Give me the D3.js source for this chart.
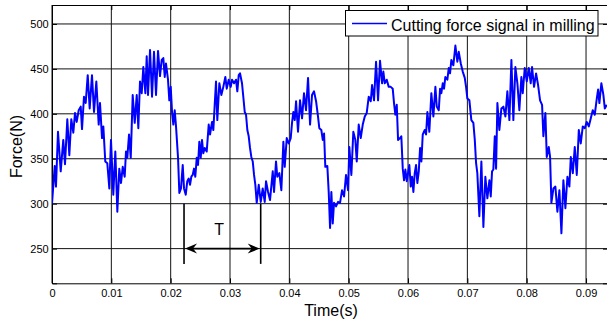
<!DOCTYPE html>
<html>
<head>
<meta charset="utf-8">
<script src="https://cdn.jsdelivr.net/npm/d3@7"></script>
<style>
  html, body { margin: 0; padding: 0; background: #fff; }
  svg { display: block; font-family: "Liberation Sans", Arial, Helvetica, sans-serif; }
</style>
</head>
<body>
<svg id="chart" width="607" height="324"></svg>
<script>
// ---- data (time in ms, force in N) ----
const timeMs = [
  0, 0.46, 0.67, 1.01, 1.47, 1.90, 2.19, 2.58, 2.92, 3.25,
  3.59, 3.88, 4.16, 4.50, 4.84, 5.06, 5.39, 5.68, 6.02, 6.35,
  6.74, 7.08, 7.47, 7.87, 8.09, 8.43, 8.65, 8.98, 9.32, 9.66,
  9.94, 10.33, 10.67, 11.01, 11.34, 11.63, 11.92, 12.25, 12.47, 12.69,
  12.98, 13.27, 13.60, 13.94, 14.28, 14.55, 14.83, 15.12, 15.39, 15.73,
  15.96, 16.18, 16.52, 16.86, 17.19, 17.53, 17.87, 18.20, 18.49, 18.76,
  19.00, 19.21, 19.55, 19.77, 20.01, 20.23, 20.45, 20.68, 20.90, 21.24,
  21.46, 21.74, 22.03, 22.25, 22.54, 22.80, 23.04, 23.26, 23.48, 23.71,
  23.93, 24.15, 24.39, 24.61, 24.83, 25.06, 25.28, 25.50, 25.74, 26.07,
  26.41, 26.63, 26.97, 27.19, 27.42, 27.64, 27.86, 28.20, 28.54, 28.87,
  29.21, 29.45, 29.78, 30.12, 30.34, 30.68, 31.01, 31.23, 31.47, 31.69,
  32.02, 32.24, 32.48, 32.70, 32.92, 33.15, 33.37, 33.59, 33.83, 34.05,
  34.27, 34.50, 34.84, 35.18, 35.51, 35.85, 36.07, 36.41, 36.74, 37.20,
  37.42, 37.75, 37.97, 38.31, 38.65, 38.99, 39.22, 39.56, 39.90, 40.23,
  40.45, 40.67, 40.91, 41.13, 41.46, 41.80, 42.14, 42.47, 42.81, 43.15,
  43.49, 43.82, 44.16, 44.50, 44.83, 45.05, 45.39, 45.63, 45.85, 46.06,
  46.40, 46.64, 46.86, 47.08, 47.31, 47.53, 47.87, 48.21, 48.54, 48.88,
  49.22, 49.55, 49.89, 50.11, 50.45, 50.78, 51.12, 51.36, 51.69, 52.03,
  52.37, 52.71, 53.04, 53.38, 53.72, 53.94, 54.27, 54.61, 54.95, 55.28,
  55.62, 55.84, 56.08, 56.41, 56.75, 57.09, 57.42, 57.64, 57.86, 58.10,
  58.32, 58.66, 58.87, 59.11, 59.33, 59.55, 59.79, 60.00, 60.22, 60.46,
  60.68, 60.90, 61.13, 61.35, 61.57, 61.81, 62.03, 62.25, 62.48, 62.82,
  63.04, 63.26, 63.59, 63.93, 64.27, 64.61, 64.84, 65.18, 65.40, 65.62,
  65.85, 66.07, 66.29, 66.63, 66.86, 67.08, 67.30, 67.64, 67.98, 68.31,
  68.55, 68.89, 69.22, 69.56, 69.78, 70.00, 70.34, 70.67, 71.01, 71.25,
  71.47, 71.68, 72.02, 72.36, 72.70, 73.03, 73.37, 73.71, 73.94, 74.16,
  74.38, 74.62, 74.84, 75.06, 75.39, 75.73, 76.07, 76.41, 76.74, 77.08,
  77.42, 77.75, 78.09, 78.43, 78.76, 79.10, 79.33, 79.67, 80.01, 80.35,
  80.68, 80.90, 81.24, 81.58, 81.92, 82.25, 82.59, 82.81, 83.15, 83.38,
  83.72, 83.94, 84.16, 84.50, 84.83, 85.17, 85.51, 85.85, 86.18, 86.52,
  86.86, 87.19, 87.43, 87.77, 88.10, 88.44, 88.78, 89.11, 89.45, 89.79,
  90.12, 90.46, 90.80, 91.13, 91.47, 91.81, 92.03, 92.25, 92.58, 92.92, 93.16, 93.50
];
const forceN = [
  300, 342, 319, 380, 336, 371, 344, 394, 354, 394,
  379, 401, 391, 404, 408, 383, 419, 412, 443, 406,
  443, 402, 436, 388, 412, 373, 386, 347, 345, 317,
  371, 310, 358, 291, 339, 323, 341, 330, 358, 351,
  377, 351, 421, 390, 421, 384, 436, 423, 452, 423,
  464, 421, 471, 419, 469, 421, 470, 442, 460, 462,
  441, 456, 438, 415, 430, 402, 388, 404, 386, 351,
  312, 317, 343, 317, 310, 325, 328, 321, 330, 332,
  339, 330, 351, 343, 369, 351, 371, 356, 362, 358,
  388, 377, 391, 382, 410, 436, 393, 434, 421, 430,
  441, 428, 438, 430, 438, 434, 438, 425, 443, 445,
  434, 419, 402, 399, 382, 375, 362, 352, 347, 332,
  321, 301, 321, 302, 317, 302, 325, 313, 304, 336,
  313, 347, 330, 334, 315, 369, 341, 373, 367, 373,
  390, 402, 393, 414, 380, 415, 395, 423, 404, 440,
  388, 421, 425, 414, 397, 384, 382, 371, 378, 341,
  342, 312, 273, 313, 278, 301, 297, 302, 301, 315,
  308, 332, 315, 363, 332, 380, 371, 347, 388, 373,
  388, 397, 401, 419, 414, 432, 415, 458, 415, 459,
  434, 447, 434, 438, 430, 430, 428, 412, 399, 410,
  371, 373, 375, 339, 326, 338, 325, 334, 343, 319,
  330, 313, 334, 343, 323, 336, 362, 347, 377, 382,
  377, 402, 380, 423, 397, 430, 408, 404, 428, 423,
  434, 428, 441, 438, 451, 445, 460, 454, 476, 458,
  469, 456, 447, 440, 430, 417, 415, 393, 390, 371,
  345, 334, 286, 347, 274, 330, 306, 326, 308, 336,
  338, 375, 339, 412, 382, 406, 408, 397, 425, 393,
  460, 393, 452, 434, 404, 441, 423, 451, 436, 451,
  434, 452, 430, 445, 432, 415, 410, 375, 401, 352,
  363, 352, 301, 317, 319, 291, 315, 267, 326, 295,
  330, 319, 352, 334, 363, 332, 382, 367, 386, 384,
  391, 386, 395, 404, 399, 417, 427, 412, 434, 421, 406, 410
];
const xTicks = [0, 0.01, 0.02, 0.03, 0.04, 0.05, 0.06, 0.07, 0.08, 0.09];
const xTickLabels = ["0", "0.01", "0.02", "0.03", "0.04", "0.05", "0.06", "0.07", "0.08", "0.09"];
const yTicks = [250, 300, 350, 400, 450, 500];
const seriesName = "Cutting force signal in milling";
const xTitle = "Time(s)";
const yTitle = "Force(N)";
// period annotation (seconds, N)
const periodStart = 0.02225;
const periodEnd = 0.03517;
const periodLineForce = [233, 300];
const periodArrowForce = 250;
const periodLabel = "T";
const periodLabelPos = [0.02815, 265];

// ---- layout ----
const svg = d3.select("#chart");
const L = 52, R = 608, T = 5, B = 283.3;
const x = d3.scaleLinear().domain([0, 0.0937]).range([L, R]);
const y = d3.scaleLinear().domain([211.4, 521.1]).range([B, T]);
const fontStack = '"Liberation Sans", Arial, Helvetica, sans-serif';

svg.append("defs").append("clipPath").attr("id", "clip")
  .append("rect").attr("x", L).attr("y", T).attr("width", R - L).attr("height", B - T);

// grid
const grid = svg.append("g").attr("stroke", "#111").attr("stroke-width", 1);
grid.selectAll("line.vx").data(xTicks).join("line")
  .attr("x1", d => x(d)).attr("x2", d => x(d)).attr("y1", T).attr("y2", B);
grid.selectAll("line.hy").data(yTicks).join("line")
  .attr("y1", d => y(d)).attr("y2", d => y(d)).attr("x1", L).attr("x2", R);

// axes with inward ticks
const axB = svg.append("g").attr("transform", `translate(0,${B})`)
  .call(d3.axisBottom(x).tickValues(xTicks).tickFormat((d, i) => xTickLabels[i]).tickSize(-5).tickPadding(5.4));
const axT = svg.append("g").attr("transform", `translate(0,${T})`)
  .call(d3.axisTop(x).tickValues(xTicks).tickFormat("").tickSize(-5));
const axL = svg.append("g").attr("transform", `translate(${L},0)`)
  .call(d3.axisLeft(y).tickValues(yTicks).tickSize(-5).tickPadding(3.3));
const axR = svg.append("g").attr("transform", `translate(${R},0)`)
  .call(d3.axisRight(y).tickValues(yTicks).tickFormat("").tickSize(-5));
[axB, axT, axL, axR].forEach(a => {
  a.selectAll("path.domain").attr("stroke", "#000").attr("stroke-width", 1);
  a.selectAll(".tick line").attr("stroke", "#000");
  a.selectAll("text").attr("font-family", fontStack).attr("font-size", 11).attr("fill", "#000");
});

// signal
const data = timeMs.map((t, i) => ({ t: t / 1000, f: forceN[i] }));
svg.append("path").datum(data)
  .attr("clip-path", "url(#clip)")
  .attr("fill", "none").attr("stroke", "#0000ff").attr("stroke-width", 2)
  .attr("stroke-linejoin", "round")
  .attr("d", d3.line().x(d => x(d.t)).y(d => y(d.f)));

// period annotation
const ann = svg.append("g").attr("stroke", "#000").attr("stroke-width", 1.6);
[periodStart, periodEnd].forEach(t => {
  ann.append("line").attr("x1", x(t)).attr("x2", x(t))
    .attr("y1", y(periodLineForce[0])).attr("y2", y(periodLineForce[1]));
});
const ax1 = x(periodStart), ax2 = x(periodEnd), ay = y(periodArrowForce);
ann.append("line").attr("x1", ax1 + 6).attr("x2", ax2 - 6).attr("y1", ay).attr("y2", ay);
function head(tipX, dir) {
  const len = 12, hw = 5, notch = 4;
  return `M${tipX},${ay} L${tipX - dir * len},${ay - hw} L${tipX - dir * (len - notch)},${ay} L${tipX - dir * len},${ay + hw} Z`;
}
svg.append("path").attr("d", head(ax1 + 1, -1)).attr("fill", "#000");
svg.append("path").attr("d", head(ax2 - 1, 1)).attr("fill", "#000");
svg.append("text").attr("x", x(periodLabelPos[0])).attr("y", y(periodLabelPos[1]))
  .attr("text-anchor", "middle").attr("font-family", fontStack).attr("font-size", 16)
  .text(periodLabel);

// axis titles
svg.append("text").attr("x", (L + R) / 2 + 1).attr("y", 315.5)
  .attr("text-anchor", "middle").attr("font-family", fontStack).attr("font-size", 16).text(xTitle);
svg.append("text").attr("transform", "translate(21.5,146.5) rotate(-90)")
  .attr("text-anchor", "middle").attr("font-family", fontStack).attr("font-size", 16).text(yTitle);

// legend
const lg = svg.append("g");
lg.append("rect").attr("x", 345.5).attr("y", 10.5).attr("width", 252.5).attr("height", 25.5)
  .attr("fill", "#fff").attr("stroke", "#000").attr("stroke-width", 1);
lg.append("line").attr("x1", 352).attr("x2", 387).attr("y1", 23.5).attr("y2", 23.5)
  .attr("stroke", "#0000ff").attr("stroke-width", 1.5);
lg.append("text").attr("x", 391).attr("y", 30.5).attr("font-family", fontStack)
  .attr("font-size", 16).text(seriesName);
</script>
</body>
</html>
